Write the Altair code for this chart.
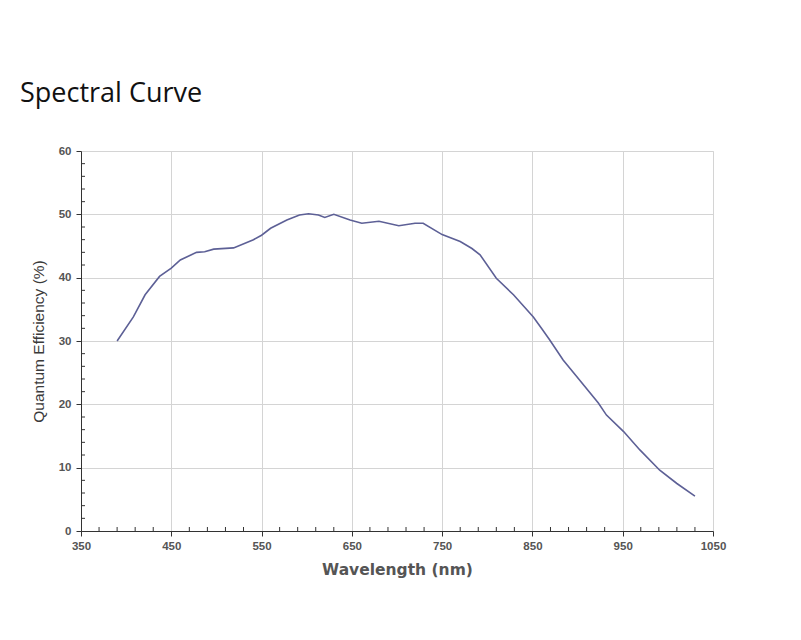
import altair as alt
import pandas as pd

wavelength = [390, 408, 421, 437, 450, 460, 478, 487, 497, 519, 541, 550, 560, 578, 592,
              602, 613, 620, 630, 648, 661, 680, 702, 720, 729, 750, 770, 783, 792, 810,
              829, 851, 860, 869, 884, 899, 923, 932, 951, 969, 991, 1010, 1030]
efficiency = [30.0, 33.8, 37.3, 40.2, 41.5, 42.8, 44.0, 44.1, 44.5, 44.7, 46.0, 46.7, 47.8, 49.1, 49.9,
              50.1, 49.9, 49.5, 50.0, 49.1, 48.6, 48.9, 48.2, 48.6, 48.6, 46.8, 45.7, 44.6, 43.6, 39.9,
              37.3, 33.8, 32.0, 30.2, 27.0, 24.4, 20.2, 18.3, 15.7, 12.8, 9.6, 7.5, 5.5]

x_major = [350, 450, 550, 650, 750, 850, 950, 1050]
y_major = [0, 10, 20, 30, 40, 50, 60]
x_minor = [350 + 20 * k for k in range(1, 35) if k % 5 != 0]
y_minor = [2 * k for k in range(1, 30) if k % 5 != 0]

W, H = 632, 380

df = pd.DataFrame({"wl": wavelength, "qe": efficiency})
dfx = pd.DataFrame({"v": x_minor})
dfy = pd.DataFrame({"v": y_minor})

xscale = alt.Scale(domain=[350, 1050], nice=False, zero=False)
yscale = alt.Scale(domain=[0, 60], nice=False)

label_font = "Liberation Sans"

xaxis = alt.Axis(
    values=x_major, format="d", title="Wavelength (nm)", grid=True, gridColor="#d4d4d4",
    domainColor="#333333", tickColor="#333333", tickSize=5, labelPadding=4,
    labelFont=label_font, labelFontSize=11.5, labelFontWeight="bold", labelColor="#555555",
    titleFont="DejaVu Sans", titleFontSize=15.5, titleFontWeight="bold", titleColor="#555555",
    titlePadding=11, labelFlush=False)
yaxis = alt.Axis(
    values=y_major, format="d", title="Quantum Efficiency (%)", grid=True, gridColor="#d4d4d4",
    domainColor="#333333", tickColor="#333333", tickSize=5, labelPadding=5,
    labelFont=label_font, labelFontSize=11.5, labelFontWeight="bold", labelColor="#555555",
    titleFont="Liberation Sans", titleFontSize=15.5, titleFontWeight="normal", titleColor="#3a3a3a",
    titlePadding=12)

line = alt.Chart(df).mark_line(color="#5d6096", strokeWidth=1.6).encode(
    x=alt.X("wl:Q", scale=xscale, axis=xaxis),
    y=alt.Y("qe:Q", scale=yscale, axis=yaxis),
)

xminor = alt.Chart(dfx).mark_rule(color="#333333", strokeWidth=1).encode(
    x=alt.X("v:Q", scale=xscale, axis=xaxis),
    y=alt.value(H - 4), y2=alt.value(H),
)
yminor = alt.Chart(dfy).mark_rule(color="#333333", strokeWidth=1).encode(
    y=alt.Y("v:Q", scale=yscale, axis=yaxis),
    x=alt.value(0), x2=alt.value(4),
)

chart = alt.layer(line, xminor, yminor).properties(
    width=W, height=H,
    title=alt.TitleParams("Spectral Curve", anchor="start", frame="group", dx=-61,
                          font="Open Sans", fontSize=27, fontWeight="normal",
                          color="#111111", offset=37),
    autosize=alt.AutoSizeParams(type="none"),
    padding={"left": 81, "top": 151, "right": 88, "bottom": 109},
).configure_view(stroke=None).configure(background="white")

chart.save("out.html", embed_options={"renderer": "svg", "actions": False})
